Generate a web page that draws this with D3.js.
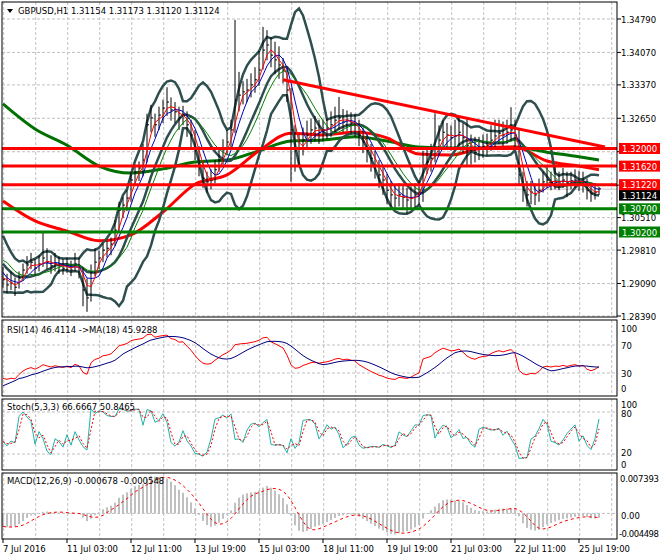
<!DOCTYPE html>
<html>
<head>
<meta charset="utf-8">
<script src="https://cdn.jsdelivr.net/npm/d3@7"></script>
<style>
  body { margin: 0; background: #fff; }
  text { font-family: "DejaVu Sans", Tahoma, sans-serif; font-size: 8.5px; }
</style>
</head>
<body>
<div id="vis"></div>
<script>
// GBPUSD H1, one entry per 2 hours
const closes = [1.2917,1.2906,1.2910,1.2901,1.2921,1.2938,1.2949,1.2955,1.2942,1.2951,
  1.2964,1.2955,1.2947,1.2953,1.2947,1.2942,1.2947,1.2938,1.2951,1.2942,
  1.2895,1.2878,1.2934,1.2955,1.2964,1.2981,1.2985,1.2994,1.3024,1.3067,
  1.3078,1.3093,1.3132,1.3149,1.3158,1.3175,1.3251,1.3266,1.3251,1.3272,
  1.3287,1.3300,1.3283,1.3279,1.3266,1.3272,1.3251,1.3229,1.3197,1.3164,
  1.3136,1.3128,1.3132,1.3154,1.3175,1.3197,1.3214,1.3240,1.3304,1.3315,
  1.3322,1.3326,1.3337,1.3348,1.3369,1.3412,1.3423,1.3401,1.3391,1.3380,
  1.3369,1.3326,1.3240,1.3197,1.3201,1.3218,1.3229,1.3240,1.3244,1.3235,
  1.3240,1.3244,1.3251,1.3261,1.3266,1.3257,1.3261,1.3255,1.3251,1.3229,
  1.3214,1.3197,1.3179,1.3164,1.3143,1.3132,1.3110,1.3100,1.3093,1.3100,
  1.3095,1.3089,1.3093,1.3100,1.3106,1.3164,1.3171,1.3179,1.3201,1.3218,
  1.3235,1.3229,1.3223,1.3227,1.3235,1.3223,1.3207,1.3197,1.3192,1.3201,
  1.3205,1.3207,1.3218,1.3227,1.3233,1.3229,1.3235,1.3240,1.3229,1.3143,
  1.3110,1.3100,1.3106,1.3100,1.3110,1.3128,1.3132,1.3126,1.3130,1.3128,
  1.3132,1.3126,1.3130,1.3132,1.3126,1.3128,1.3110,1.3102,1.3106,1.3113];
const highs = [1.2945,1.2930,1.2935,1.2922,1.2935,1.2952,1.2968,1.2975,1.2962,1.2970,
  1.3018,1.2985,1.2970,1.2975,1.2968,1.2962,1.2965,1.2958,1.2975,1.2965,
  1.2945,1.2920,1.2950,1.2985,1.2980,1.2995,1.3000,1.3008,1.3045,1.3085,
  1.3095,1.3110,1.3150,1.3165,1.3172,1.3210,1.3275,1.3294,1.3275,1.3290,
  1.3305,1.3332,1.3310,1.3300,1.3290,1.3292,1.3280,1.3262,1.3240,1.3205,
  1.3170,1.3150,1.3155,1.3175,1.3200,1.3220,1.3240,1.3262,1.3477,1.3365,
  1.3345,1.3350,1.3362,1.3375,1.3410,1.3462,1.3455,1.3440,1.3430,1.3420,
  1.3395,1.3375,1.3330,1.3250,1.3230,1.3245,1.3260,1.3265,1.3270,1.3262,
  1.3262,1.3265,1.3280,1.3290,1.3311,1.3285,1.3282,1.3278,1.3275,1.3262,
  1.3245,1.3230,1.3210,1.3195,1.3175,1.3160,1.3145,1.3130,1.3120,1.3125,
  1.3122,1.3115,1.3118,1.3125,1.3130,1.3195,1.3200,1.3210,1.3276,1.3250,
  1.3260,1.3255,1.3250,1.3262,1.3268,1.3255,1.3268,1.3230,1.3225,1.3225,
  1.3230,1.3232,1.3250,1.3262,1.3262,1.3258,1.3262,1.3289,1.3262,1.3240,
  1.3150,1.3130,1.3130,1.3125,1.3135,1.3150,1.3160,1.3150,1.3165,1.3150,
  1.3158,1.3150,1.3150,1.3155,1.3152,1.3150,1.3135,1.3125,1.3125,1.3117];
const lows = [1.2900,1.2888,1.2895,1.2882,1.2898,1.2915,1.2930,1.2940,1.2925,1.2935,
  1.2945,1.2940,1.2930,1.2935,1.2930,1.2928,1.2932,1.2925,1.2935,1.2920,
  1.2860,1.2848,1.2870,1.2925,1.2940,1.2955,1.2965,1.2970,1.2990,1.3020,
  1.3050,1.3065,1.3085,1.3120,1.3130,1.3140,1.3170,1.3235,1.3225,1.3240,
  1.3255,1.3270,1.3260,1.3255,1.3240,1.3250,1.3225,1.3200,1.3175,1.3140,
  1.3115,1.3105,1.3112,1.3125,1.3150,1.3165,1.3185,1.3200,1.3233,1.3280,
  1.3295,1.3300,1.3310,1.3320,1.3335,1.3370,1.3390,1.3375,1.3360,1.3350,
  1.3340,1.3300,1.3128,1.3150,1.3160,1.3185,1.3200,1.3210,1.3215,1.3210,
  1.3215,1.3220,1.3225,1.3235,1.3240,1.3235,1.3238,1.3232,1.3225,1.3205,
  1.3190,1.3170,1.3150,1.3135,1.3115,1.3100,1.3080,1.3075,1.3068,1.3075,
  1.3070,1.3060,1.3068,1.3072,1.3078,1.3085,1.3145,1.3150,1.3170,1.3185,
  1.3205,1.3200,1.3195,1.3200,1.3205,1.3190,1.3160,1.3165,1.3170,1.3175,
  1.3180,1.3185,1.3195,1.3200,1.3210,1.3205,1.3210,1.3215,1.3200,1.3120,
  1.3085,1.3075,1.3080,1.3078,1.3085,1.3105,1.3115,1.3110,1.3112,1.3110,
  1.3115,1.3095,1.3112,1.3115,1.3108,1.3105,1.3090,1.3085,1.3090,1.3100];
// closes just before the window, estimated from where the bands start
const priorCloses = [1.3030,1.3010,1.2990,1.2975,1.2950,1.2930,1.2960,1.2940,1.2915,1.2930];

// slow moving averages (thick lines), read every 8 entries
const slowIdx = [0,8,16,24,32,40,48,56,64,72,80,88,96,104,112,120,128,136,144,149];
const slowRed = [1.3087,1.3044,1.3022,1.3001,1.3014,1.3063,1.3123,1.3143,1.3195,1.3233,
  1.3229,1.3235,1.3223,1.3188,1.3186,1.3201,1.3203,1.3173,1.3162,1.3154];
const slowGreen = [1.3296,1.3242,1.3207,1.3162,1.3147,1.3156,1.3171,1.3175,1.3195,1.3216,
  1.3218,1.3225,1.3216,1.3203,1.3201,1.3201,1.3203,1.3192,1.3182,1.3175];

const redLevels = [1.32000, 1.31620, 1.31220];
const greenLevels = [1.30700, 1.30200];
const trendIdx = [70, 150.5];
const trendVal = [1.3348, 1.3203];
const lastPrice = 1.31124;

// 1.31930 and 1.31210 sit under the level tags, so only their grid lines show
const priceTicks = [1.34790,1.34070,1.33370,1.32650,1.31930,1.31210,1.30510,1.29810,1.29090,1.28390];
const hiddenTicks = [1.31930, 1.31210];
const dateIdx = [0,16,32,48,64,80,96,112,128,144];
const dateLabels = ['7 Jul 2016','11 Jul 03:00','12 Jul 11:00','13 Jul 19:00','15 Jul 03:00',
  '18 Jul 11:00','19 Jul 19:00','21 Jul 03:00','22 Jul 11:00','25 Jul 19:00'];

const W = 660, H = 560, L = 2, R = 617;
const pMain = [2, 317], pRsi = [320, 396], pSto = [399, 470], pMacd = [473, 539];

const svg = d3.select('#vis').append('svg')
  .attr('width', W).attr('height', H)
  .style('background', '#fff');

const x = d3.scaleLinear().domain([0, 150]).range([3, 603]);
const y = d3.scaleLinear().domain([1.2839, 1.3479]).range([316, 19]);
const yRsi = d3.scaleLinear().domain([0, 100]).range([394, 324]);
const ySto = d3.scaleLinear().domain([0, 100]).range([468, 398]);
const yMacd = d3.scaleLinear().domain([-0.004498, 0.007393]).range([538, 473]);

// indicators, worked out from the bars (bar = 2h)
const all = priorCloses.concat(closes);
const off = priorCloses.length;
function sma(a, n) {
  return a.map((v, i) => d3.mean(a.slice(Math.max(0, i - n + 1), i + 1)));
}
function ema(a, n) {
  const k = 2 / (n + 1); let e = a[0];
  return a.map(v => e = e + k * (v - e));
}
const maFast = sma(all, 3).slice(off);
const maMid = sma(all, 5).slice(off);
const maSlow = sma(all, 12).slice(off);
const bbMid = [], bbUp = [], bbLo = [];
closes.forEach((c, i) => {
  const s = all.slice(i + off - 9, i + off + 1);
  const m = d3.mean(s);
  const sd = Math.sqrt(d3.mean(s, v => (v - m) * (v - m)));
  bbMid.push(m); bbUp.push(m + 2 * sd); bbLo.push(m - 2 * sd);
});

function rsi(a, n) {
  let ag = 0, al = 0; const out = [];
  for (let i = 1; i < a.length; i++) {
    const d = a[i] - a[i - 1];
    const g = Math.max(d, 0), l = Math.max(-d, 0);
    if (i <= n) { ag += g / n; al += l / n; }
    else { ag = (ag * (n - 1) + g) / n; al = (al * (n - 1) + l) / n; }
    out[i] = al === 0 ? 100 : 100 - 100 / (1 + ag / al);
  }
  out[0] = out[1];
  return out;
}
const rsiAll = rsi(all, 14);
const rsiLine = rsiAll.slice(off);
const rsiMa = sma(rsiAll, 9).slice(off);

const stoK = closes.map((c, i) => {
  const lo = d3.min(lows.slice(Math.max(0, i - 2), i + 1));
  const hi = d3.max(highs.slice(Math.max(0, i - 2), i + 1));
  return hi > lo ? 100 * (c - lo) / (hi - lo) : 50;
});
const stoD = sma(stoK, 2);

const e6 = ema(all, 6), e13 = ema(all, 13);
const macdAll = e6.map((v, i) => v - e13[i]);
const macdMain = macdAll.slice(off);
const macdSig = sma(macdAll, 5).slice(off);

// clips
[pMain, pRsi, pSto, pMacd].forEach((p, k) => {
  svg.append('clipPath').attr('id', 'c' + k)
    .append('rect').attr('x', L).attr('y', p[0]).attr('width', R - L).attr('height', p[1] - p[0]);
});

const gridX = d3.range(0, 20).map(k => 3.7 + 32 * k);
function grid(p, ys) {
  const g = svg.append('g').attr('stroke', '#c0c0c0').attr('stroke-dasharray', '3,2');
  gridX.forEach(gx => g.append('line').attr('x1', gx).attr('x2', gx).attr('y1', p[0]).attr('y2', p[1]));
  ys.forEach(gy => g.append('line').attr('x1', L).attr('x2', R).attr('y1', gy).attr('y2', gy));
}
grid(pMain, priceTicks.map(y));
grid(pRsi, [yRsi(70), yRsi(30)]);
grid(pSto, [ySto(80), ySto(20)]);
grid(pMacd, [yMacd(0)]);

// ---- main panel
const main = svg.append('g').attr('clip-path', 'url(#c0)');
main.append('line').attr('x1', L).attr('x2', R)
  .attr('y1', y(lastPrice)).attr('y2', y(lastPrice)).attr('stroke', '#c0c0c0');

const line = (arr, sc) => d3.line().x((d, i) => x(i)).y(d => sc(d))(arr);

main.append('path').attr('d', d3.line().curve(d3.curveMonotoneX)
    .x((d, i) => x(slowIdx[i])).y(d => y(d))(slowGreen))
  .attr('fill', 'none').attr('stroke', '#007000').attr('stroke-width', 3);
main.append('path').attr('d', d3.line().curve(d3.curveMonotoneX)
    .x((d, i) => x(slowIdx[i])).y(d => y(d))(slowRed))
  .attr('fill', 'none').attr('stroke', '#ff0000').attr('stroke-width', 3);

[bbUp, bbMid, bbLo].forEach(b => main.append('path').attr('d', line(b, y))
  .attr('fill', 'none').attr('stroke', '#2f4f4f').attr('stroke-width', 2.5));

const bars = main.append('g').attr('stroke', '#000');
closes.forEach((c, i) => {
  bars.append('line').attr('x1', x(i)).attr('x2', x(i)).attr('y1', y(highs[i])).attr('y2', y(lows[i]));
  bars.append('line').attr('x1', x(i)).attr('x2', x(i) + 2).attr('y1', y(c)).attr('y2', y(c));
});

main.append('path').attr('d', line(maSlow, y)).attr('fill', 'none').attr('stroke', '#008000');
main.append('path').attr('d', line(maMid, y)).attr('fill', 'none').attr('stroke', '#0000c0');
main.append('path').attr('d', line(maFast, y)).attr('fill', 'none').attr('stroke', '#ff0000');

redLevels.forEach(v => main.append('line').attr('x1', L).attr('x2', R).attr('y1', y(v)).attr('y2', y(v))
  .attr('stroke', '#ff0000').attr('stroke-width', 3));
greenLevels.forEach(v => main.append('line').attr('x1', L).attr('x2', R).attr('y1', y(v)).attr('y2', y(v))
  .attr('stroke', '#008000').attr('stroke-width', 3));
main.append('line').attr('x1', x(trendIdx[0])).attr('x2', x(trendIdx[1]))
  .attr('y1', y(trendVal[0])).attr('y2', y(trendVal[1]))
  .attr('stroke', '#ff0000').attr('stroke-width', 3);

// ---- RSI
const gR = svg.append('g').attr('clip-path', 'url(#c1)').attr('fill', 'none');
gR.append('path').attr('d', line(rsiLine, yRsi)).attr('stroke', '#ff0000');
gR.append('path').attr('d', line(rsiMa, yRsi)).attr('stroke', '#000080');

// ---- Stochastic
const gS = svg.append('g').attr('clip-path', 'url(#c2)').attr('fill', 'none');
gS.append('path').attr('d', line(stoK, ySto)).attr('stroke', '#20b2aa');
gS.append('path').attr('d', line(stoD, ySto)).attr('stroke', '#ff0000').attr('stroke-dasharray', '2,2');

// ---- MACD
const gM = svg.append('g').attr('clip-path', 'url(#c3)');
macdMain.forEach((v, i) => gM.append('rect')
  .attr('x', x(i) - 1).attr('width', 2)
  .attr('y', Math.min(yMacd(0), yMacd(v))).attr('height', Math.abs(yMacd(v) - yMacd(0)))
  .attr('fill', '#c0c0c0'));
gM.append('path').attr('d', line(macdSig, yMacd)).attr('fill', 'none')
  .attr('stroke', '#ff0000').attr('stroke-dasharray', '3,3');

// frames
[pMain, pRsi, pSto, pMacd].forEach(p => svg.append('rect')
  .attr('x', L).attr('y', p[0]).attr('width', R - L).attr('height', p[1] - p[0])
  .attr('fill', 'none').attr('stroke', '#000'));

// right axis labels
function axisLabel(yy, txt, showText) {
  svg.append('line').attr('x1', R).attr('x2', R + 4).attr('y1', yy).attr('y2', yy).attr('stroke', '#000');
  if (showText) svg.append('text').attr('x', R + 4).attr('y', yy + 3.5).text(txt);
}
priceTicks.forEach(v => axisLabel(y(v), d3.format('.5f')(v), !hiddenTicks.includes(v)));
function tag(v, col, dy) {
  const yy = y(v) + dy;
  svg.append('rect').attr('x', 619).attr('y', yy - 5.5).attr('width', 41).attr('height', 11).attr('fill', col);
  svg.append('text').attr('x', 622).attr('y', yy + 3.5).attr('fill', '#fff').text(d3.format('.5f')(v));
}
tag(lastPrice, '#000', 6);
redLevels.forEach(v => tag(v, '#ff0000', 0));
greenLevels.forEach(v => tag(v, '#008000', 0));

[[100, 328], [70, 345], [30, 373], [0, 388]].forEach(d => {
  svg.append('text').attr('x', R + 4).attr('y', d[1] + 3.5).text(d[0]);
});
[[100, 404], [80, 413], [20, 452], [0, 464]].forEach(d => {
  svg.append('text').attr('x', R + 4).attr('y', d[1] + 3.5).text(d[0]);
});
svg.append('text').attr('x', R + 3).attr('y', 481.5).attr('textLength', 39).text('0.007393');
svg.append('text').attr('x', R + 4).attr('y', 518.5).text('0.00');
svg.append('text').attr('x', R + 2).attr('y', 536.5).attr('textLength', 40).text('-0.004498');

// date axis
dateIdx.forEach((b, k) => {
  const tx = x(b);
  svg.append('line').attr('x1', tx).attr('x2', tx).attr('y1', pMacd[1]).attr('y2', pMacd[1] + 4).attr('stroke', '#000');
  svg.append('text').attr('x', tx).attr('y', 552).text(dateLabels[k]);
});

// captions
svg.append('path').attr('d', 'M7,9 L13,9 L10,13 Z').attr('fill', '#000');
svg.append('text').attr('x', 18).attr('y', 14).text('GBPUSD,H1  1.31154 1.31173 1.31120 1.31124');
svg.append('text').attr('x', 7).attr('y', 333).text('RSI(14) 46.4114  ->MA(18) 45.9288');
svg.append('text').attr('x', 7).attr('y', 410).text('Stoch(5,3,3) 66.6667 50.8465');
svg.append('text').attr('x', 7).attr('y', 484).text('MACD(12,26,9) -0.000678 -0.000548');
</script>
</body>
</html>
